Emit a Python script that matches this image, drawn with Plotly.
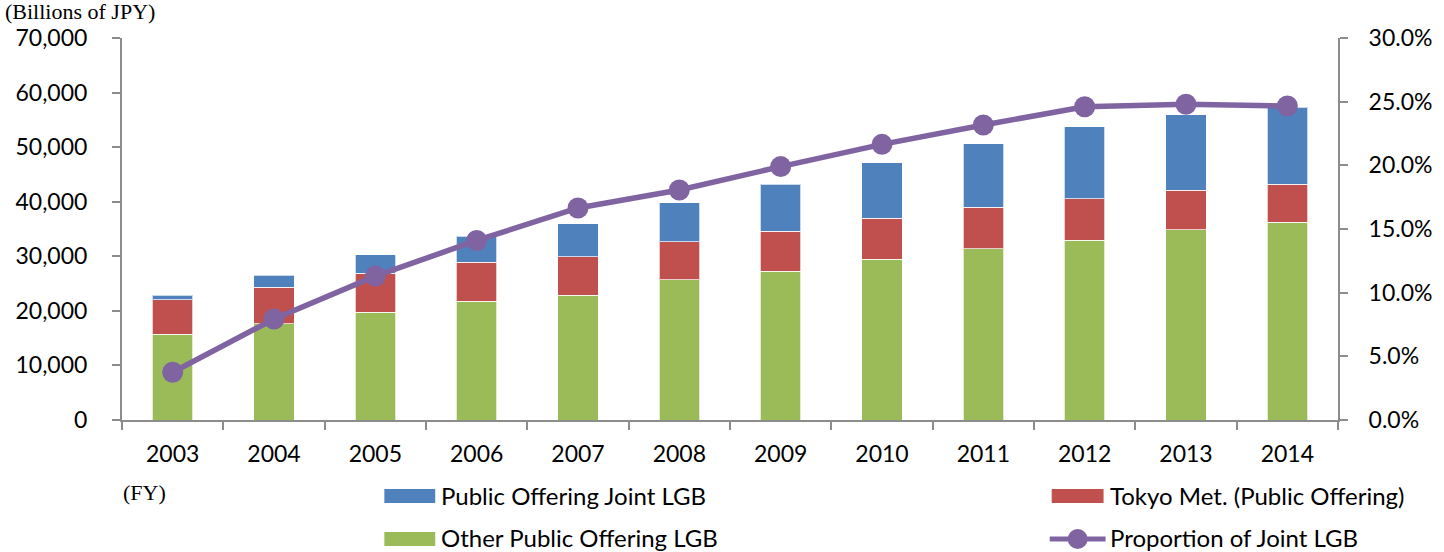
import plotly.graph_objects as go

# ---- data (billions of JPY, share of joint LGB) ----
years = ["2003", "2004", "2005", "2006", "2007", "2008", "2009", "2010", "2011", "2012", "2013", "2014"]
other_lgb = [15760, 17650, 19790, 21800, 22900, 25660, 27300, 29500, 31400, 32980, 34820, 36280]
tokyo_met = [6290, 6720, 7090, 7150, 7030, 7020, 7280, 7460, 7570, 7580, 7270, 6910]
joint_lgb = [800, 2130, 3360, 4710, 5990, 7140, 8610, 10200, 11670, 13200, 13860, 14110]
joint_share = [0.0375, 0.0793, 0.113, 0.141, 0.1665, 0.1806, 0.199, 0.2165, 0.2317, 0.246, 0.248, 0.2466]

name_joint = "Public Offering Joint LGB"
name_tokyo = "Tokyo Met. (Public Offering)"
name_other = "Other Public Offering LGB"
name_share = "Proportion of Joint LGB"

BLUE = "#4F81BD"
RED = "#C0504D"
GREEN = "#9BBB59"
PURPLE = "#8064A2"
AXIS = "#8C8C8C"

W, H = 1444, 552
ML, MR, MT, MB = 122, 103, 38, 132
PW, PH = W - ML - MR, H - MT - MB


def px(x):
    return (x - ML) / PW


def py(y):
    return (H - MB - y) / PH


SANS = "Lato"
SERIF = "Liberation Serif"

fig = go.Figure()
edge = dict(color="rgba(255,255,255,0.7)", width=1)
fig.add_trace(go.Bar(x=years, y=other_lgb, name=name_other, marker=dict(color=GREEN, line=edge), showlegend=False))
fig.add_trace(go.Bar(x=years, y=tokyo_met, name=name_tokyo, marker=dict(color=RED, line=edge), showlegend=False))
fig.add_trace(go.Bar(x=years, y=joint_lgb, name=name_joint, marker=dict(color=BLUE, line=edge), showlegend=False))
fig.add_trace(go.Scatter(x=years, y=joint_share, name=name_share, yaxis="y2", mode="lines+markers",
                         line=dict(color=PURPLE, width=5.5), marker=dict(color=PURPLE, size=21),
                         showlegend=False))

fig.update_layout(
    width=W, height=H, autosize=False,
    margin=dict(l=ML, r=MR, t=MT, b=MB, pad=0),
    paper_bgcolor="white", plot_bgcolor="white",
    barmode="stack", bargap=0.6,
    font=dict(family=SANS, size=23, color="black"),
    xaxis=dict(type="category", range=[-0.5, len(years) - 0.5], showline=True, linecolor=AXIS,
               linewidth=2, ticks="outside", tickson="boundaries", ticklen=8, tickcolor=AXIS,
               tickwidth=2, showgrid=False, zeroline=False, ticklabelstandoff=12,
               tickfont=dict(family=SANS, size=23)),
    yaxis=dict(range=[0, 70000], dtick=10000, tickformat=",", showline=True, linecolor=AXIS,
               linewidth=2, ticks="outside", ticklen=8, tickcolor=AXIS, tickwidth=2,
               showgrid=False, zeroline=False, ticklabelstandoff=20,
               tickfont=dict(family=SANS, size=23)),
    yaxis2=dict(range=[0, 0.30], dtick=0.05, tickformat=".1%", overlaying="y", side="right",
                showline=True, linecolor=AXIS, linewidth=2, ticks="outside", ticklen=8,
                tickcolor=AXIS, tickwidth=2, showgrid=False, zeroline=False,
                ticklabelstandoff=16, tickfont=dict(family=SANS, size=23)),
)

annotations = [
    dict(text="(Billions of JPY)", x=px(3), y=py(12), xanchor="left", yanchor="middle",
         font=dict(family=SERIF, size=22)),
    dict(text="(FY)", x=px(121), y=py(492), xanchor="left", yanchor="middle",
         font=dict(family=SERIF, size=22)),
    dict(text=name_joint, x=px(440), y=py(496), xanchor="left", yanchor="middle",
         font=dict(family=SANS, size=24)),
    dict(text=name_other, x=px(440), y=py(537), xanchor="left", yanchor="middle",
         font=dict(family=SANS, size=24)),
    dict(text=name_tokyo, x=px(1110), y=py(496), xanchor="left", yanchor="middle",
         font=dict(family=SANS, size=24)),
    dict(text=name_share, x=px(1110), y=py(537), xanchor="left", yanchor="middle",
         font=dict(family=SANS, size=24)),
]
for a in annotations:
    a.update(xref="paper", yref="paper", showarrow=False)
fig.update_layout(annotations=annotations)

shapes = [
    dict(type="rect", x0=px(385), x1=px(436), y0=py(503), y1=py(489), fillcolor=BLUE, line=dict(width=0)),
    dict(type="rect", x0=px(385), x1=px(436), y0=py(546), y1=py(532), fillcolor=GREEN, line=dict(width=0)),
    dict(type="rect", x0=px(1054), x1=px(1106), y0=py(503), y1=py(489), fillcolor=RED, line=dict(width=0)),
    dict(type="line", x0=px(1052), x1=px(1108), y0=py(539), y1=py(539), line=dict(color=PURPLE, width=5)),
    dict(type="circle", x0=px(1070), x1=px(1090), y0=py(549), y1=py(529), fillcolor=PURPLE,
         line=dict(width=0)),
]
for s in shapes:
    s.update(xref="paper", yref="paper")
fig.update_layout(shapes=shapes)

fig.write_html(
    "out.html",
    config={"displayModeBar": False},
    post_script="document.body.style.margin='0';document.body.style.padding='0';"
                "document.documentElement.style.overflow='hidden';",
)
